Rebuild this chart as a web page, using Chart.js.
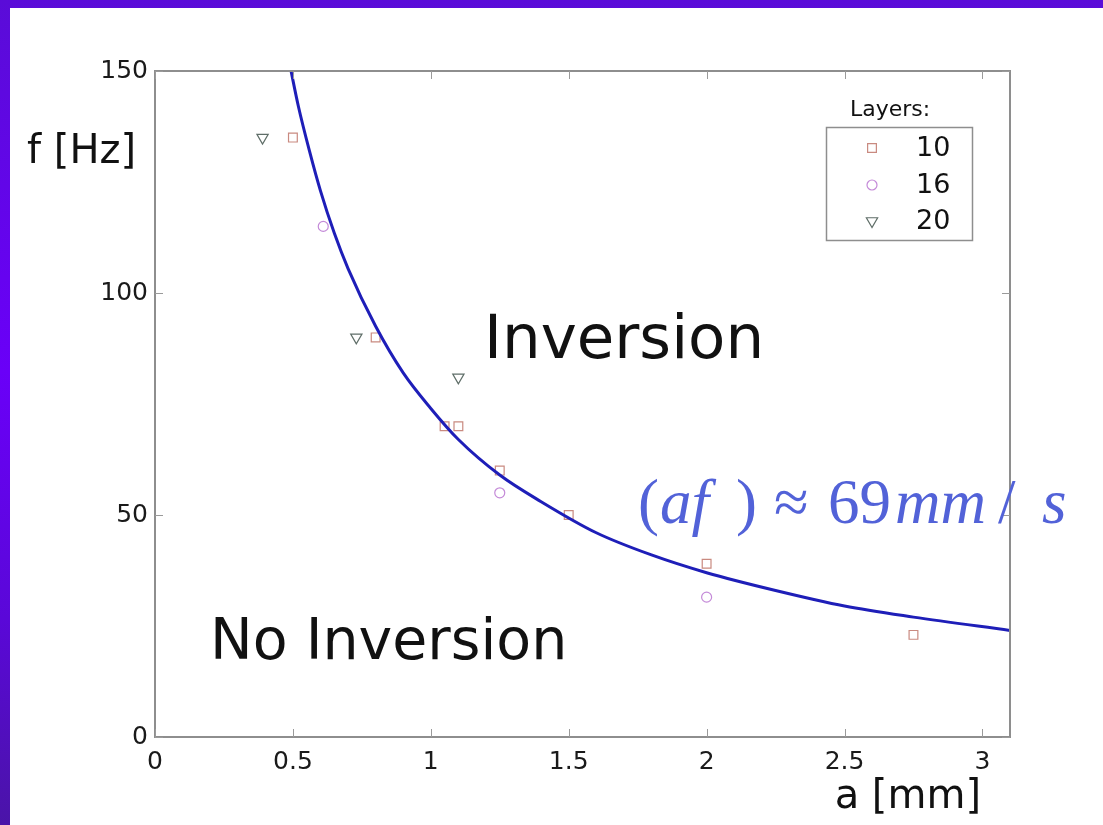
<!DOCTYPE html>
<html>
<head>
<meta charset="utf-8">
<script src="https://cdn.jsdelivr.net/npm/chart.js@4.4.1/dist/chart.umd.min.js"></script>
<style>
  html, body { margin: 0; padding: 0; }
  body {
    width: 1103px; height: 825px; overflow: hidden; position: relative;
    background: linear-gradient(180deg, #5a0cd8 0%, #6a00f8 45%, #5a08d8 75%, #4a14a8 100%);
  }
  #panel {
    position: absolute; left: 10px; top: 8px; right: 0; bottom: 0;
    background: #ffffff;
  }
  #chart { position: absolute; left: 0; top: 0; }
</style>
</head>
<body>
<div id="panel"></div>
<canvas id="chart" width="1103" height="825"></canvas>
<script>
// measured points, a [mm] vs f [Hz]
const layers10A = [0.5, 0.8, 1.05, 1.1, 1.25, 1.5, 2.0, 2.75];
const layers10F = [135, 90, 70, 70, 60, 50, 39, 23];
const layers16A = [0.61, 1.25, 2.0];
const layers16F = [115, 55, 31.5];
const layers20A = [0.39, 0.73, 1.1];
const layers20F = [135, 90, 81];

// fitted curve
const curveA = [0.49, 0.52, 0.56, 0.6, 0.65, 0.7, 0.8, 0.9, 1.0, 1.1, 1.25, 1.4, 1.6, 1.8, 2.0, 2.25, 2.5, 2.75, 3.1];
const curveF = [151, 142, 132, 123, 113.5, 105.5, 92.5, 82, 74, 67, 59, 53, 46, 41, 37, 33, 29.5, 27, 24];

const xTicks = [0, 0.5, 1, 1.5, 2, 2.5, 3];
const yTicks = [0, 50, 100, 150];
const legendTitle = "Layers:";

const FONT = "'DejaVu Sans', sans-serif";

function pts(xs, ys) {
  return xs.map((x, i) => ({ x: x, y: ys[i] }));
}

const extras = {
  id: "extras",
  afterDraw(chart) {
    const ctx = chart.ctx;
    const area = chart.chartArea;
    const xs = chart.scales.x;
    const ys = chart.scales.y;
    ctx.save();

    // box around plot
    ctx.strokeStyle = "#8e8e8e";
    ctx.lineWidth = 2;
    ctx.strokeRect(area.left, area.top, area.right - area.left, area.bottom - area.top);

    // inward ticks
    ctx.lineWidth = 1;
    ctx.strokeStyle = "#9a9a9a";
    ctx.beginPath();
    xTicks.forEach(v => {
      const px = Math.round(xs.getPixelForValue(v)) + 0.5;
      ctx.moveTo(px, area.bottom); ctx.lineTo(px, area.bottom - 8);
      ctx.moveTo(px, area.top); ctx.lineTo(px, area.top + 8);
    });
    yTicks.forEach(v => {
      const py = Math.round(ys.getPixelForValue(v)) + 0.5;
      ctx.moveTo(area.left, py); ctx.lineTo(area.left + 8, py);
      ctx.moveTo(area.right, py); ctx.lineTo(area.right - 8, py);
    });
    ctx.stroke();

    // axis titles
    ctx.fillStyle = "#111";
    ctx.textBaseline = "alphabetic";
    ctx.textAlign = "left";
    ctx.font = "40px " + FONT;
    ctx.fillText("f [Hz]", 27, 163);
    ctx.textAlign = "right";
    ctx.fillText("a [mm]", 981, 808);

    // region labels
    ctx.textAlign = "left";
    ctx.font = "61px " + FONT;
    ctx.fillText("Inversion", 484, 358);
    ctx.font = "57px " + FONT;
    ctx.fillText("No Inversion", 210, 659);

    // (af) ≈ 69mm / s
    ctx.fillStyle = "#5262d8";
    const base = 523;
    const up = "63px 'Liberation Serif', serif";
    const it = "italic 63px 'Liberation Serif', serif";
    const parts = [
      ["(", up, 638], ["af", it, 660], [")", up, 736], ["\u2248", up, 774],
      ["69", up, 828], ["mm", it, 895], ["/", up, 998], ["s", it, 1042]
    ];
    parts.forEach(p => { ctx.font = p[1]; ctx.fillText(p[0], p[2], base); });

    // legend
    ctx.fillStyle = "#111";
    ctx.font = "22px " + FONT;
    ctx.textAlign = "center";
    ctx.fillText(legendTitle, 890, 116);
    ctx.strokeStyle = "#8e8e8e";
    ctx.lineWidth = 1.5;
    ctx.strokeRect(826.5, 127.5, 146, 113);
    ctx.font = "27px " + FONT;
    ctx.textAlign = "left";
    ctx.textBaseline = "middle";
    const rows = [148, 185, 221];
    chart.data.datasets.filter(d => d.inLegend).forEach((d, i) => {
      ctx.strokeStyle = d.borderColor;
      ctx.fillStyle = "rgba(0,0,0,0)";
      ctx.lineWidth = d.borderWidth;
      Chart.helpers.drawPoint(ctx, {
        pointStyle: d.pointStyle, radius: d.pointRadius, rotation: d.rotation || 0,
        borderWidth: d.borderWidth
      }, 872, rows[i]);
      ctx.fillStyle = "#111";
      ctx.fillText(d.label, 916, rows[i] + 1);
    });
    ctx.restore();
  }
};

const cfg = {
  type: "scatter",
  data: {
    datasets: [
      {
        label: "fit",
        type: "line",
        data: pts(curveA, curveF),
        borderColor: "#1e1eb8",
        borderWidth: 3,
        pointRadius: 0,
        cubicInterpolationMode: "monotone",
        fill: false
      },
      {
        label: "10", inLegend: true,
        data: pts(layers10A, layers10F),
        pointStyle: "rect", pointRadius: 6.2, borderWidth: 1.2,
        borderColor: "#c98a80", backgroundColor: "rgba(0,0,0,0)"
      },
      {
        label: "16", inLegend: true,
        data: pts(layers16A, layers16F),
        pointStyle: "circle", pointRadius: 5, borderWidth: 1.2,
        borderColor: "#c48ad8", backgroundColor: "rgba(0,0,0,0)"
      },
      {
        label: "20", inLegend: true,
        data: pts(layers20A, layers20F),
        pointStyle: "triangle", rotation: 180, pointRadius: 6.5, borderWidth: 1.2,
        borderColor: "#5f6e68", backgroundColor: "rgba(0,0,0,0)"
      }
    ]
  },
  options: {
    responsive: false,
    animation: false,
    layout: { padding: { left: 0, right: 93, top: 71, bottom: 0 } },
    plugins: { legend: { display: false }, tooltip: { enabled: false } },
    scales: {
      x: {
        type: "linear", min: 0, max: 3.1,
        grid: { display: false, drawTicks: false },
        border: { display: false },
        afterBuildTicks: s => { s.ticks = xTicks.map(v => ({ value: v })); },
        afterFit: s => { s.height = 88; },
        ticks: {
          color: "#1a1a1a", font: { family: FONT, size: 25 }, padding: 10, maxRotation: 0,
          callback: v => String(v)
        }
      },
      y: {
        type: "linear", min: 0, max: 150,
        grid: { display: false, drawTicks: false },
        border: { display: false },
        afterBuildTicks: s => { s.ticks = yTicks.map(v => ({ value: v })); },
        afterFit: s => { s.width = 155; },
        ticks: { color: "#1a1a1a", font: { family: FONT, size: 25 }, padding: 7 }
      }
    }
  },
  plugins: [extras]
};

new Chart(document.getElementById("chart"), cfg);
</script>
</body>
</html>
